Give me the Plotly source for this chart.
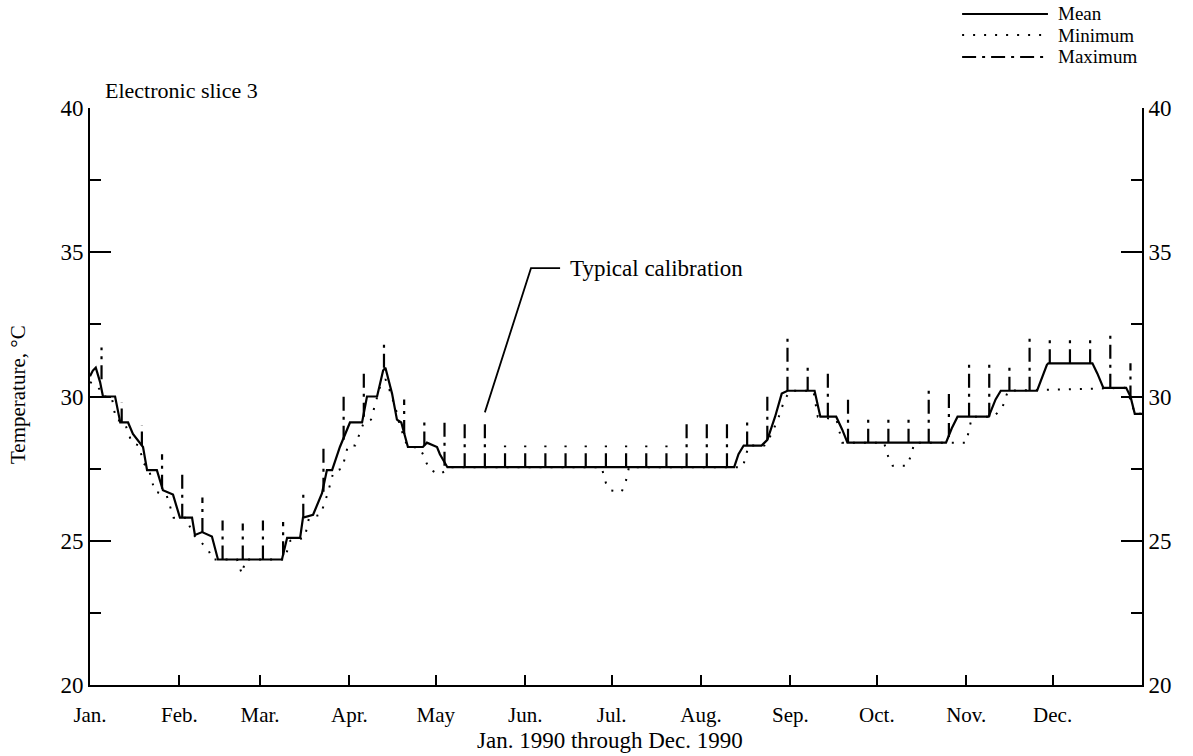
import plotly.graph_objects as go

# ---------------------------------------------------------------
# Electronic slice 3 temperatures, Jan. 1990 through Dec. 1990
# x values are day of year (0 = Jan. 1), y values are degrees C
# ---------------------------------------------------------------

month_starts = [0, 31, 59, 90, 120, 151, 181, 212, 243, 273, 304, 334]
month_labels = ["Jan.", "Feb.", "Mar.", "Apr.", "May", "Jun.", "Jul.",
                "Aug.", "Sep.", "Oct.", "Nov.", "Dec."]

# Mean temperature (vertices of the trace)
mean_days = [0, 1.0, 2.0, 3.5, 4.5, 8.7, 10.5, 13.2, 14.9, 17.3, 18.4, 19.8,
             23.2, 25.3, 28.8, 31.2, 35.4, 36.4, 38.9, 42.3, 44.4, 66.6,
             68.4, 72.9, 73.9, 77.4, 80.5, 82.2, 84.0, 86.7, 90.2, 94.4,
             96.1, 99.6, 101.7, 102.5, 104.8, 106.5, 108.0, 110.3, 115.5,
             116.9, 120.4, 121.4, 124.0, 223.5, 225.0, 226.8, 233.0, 235.0,
             237.7, 240.0, 242.0, 251.4, 253.4, 258.9, 261.0, 262.8, 297.0,
             299.0, 301.0, 311.8, 314.2, 316.0, 328.6, 332.0, 332.5, 347.8,
             349.5, 351.6, 359.5, 361.0, 362.5, 365]
mean_temp = [30.7, 30.9, 31.0, 30.5, 30.0, 30.0, 29.1, 29.1, 28.7, 28.4,
             28.25, 27.45, 27.45, 26.75, 26.6, 25.8, 25.8, 25.2, 25.3, 25.15,
             24.35, 24.35, 25.1, 25.1, 25.8, 25.9, 26.65, 27.45, 27.45, 28.25,
             29.1, 29.1, 30.0, 30.0, 30.9, 31.0, 30.1, 29.2, 29.1, 28.25,
             28.25, 28.4, 28.25, 28.0, 27.55, 27.55, 28.0, 28.3, 28.3, 28.5,
             29.3, 30.1, 30.2, 30.2, 29.3, 29.3, 28.85, 28.4, 28.4, 28.9,
             29.3, 29.3, 29.9, 30.2, 30.2, 31.1, 31.15, 31.15, 30.8, 30.3,
             30.3, 30.0, 29.4, 29.4]

# Minimum temperature (vertices of the trace)
min_days = [0, 2.5, 4.5, 7.5, 9.0, 12.0, 14.5, 17.0, 18.5, 20.5, 22.5, 26.5,
            29.0, 33.5, 35.5, 38.0, 41.0, 42.5, 51.0, 52.7, 54.0, 67.5, 69.5,
            74.5, 76.0, 80.0, 82.5, 84.5, 87.5, 89.5, 92.0, 95.0, 97.5,
            100.5, 102.5, 104.0, 106.0, 107.5, 110.0, 114.5, 116.0, 117.5,
            121.0, 123.0, 125.0, 177.5, 179.0, 180.5, 184.5, 186.0, 187.0,
            226.5, 228.5, 234.0, 236.5, 239.0, 241.0, 243.0, 251.0, 252.5,
            259.0, 261.0, 275.5, 277.0, 278.5, 283.5, 285.0, 286.0, 304.0,
            306.0, 313.5, 316.5, 318.5, 359.0, 361.0, 362.5, 365]
min_temp = [30.5, 30.4, 30.0, 30.0, 29.2, 29.1, 28.4, 28.3, 27.7, 27.45,
            26.7, 26.6, 25.8, 25.8, 25.25, 25.0, 24.7, 24.35, 24.35, 23.85,
            24.35, 24.35, 25.0, 25.1, 25.8, 25.9, 26.65, 27.4, 27.5, 28.3,
            28.3, 29.1, 29.2, 30.3, 30.6, 30.2, 29.6, 29.0, 28.3, 28.2, 27.9,
            27.5, 27.3, 27.4, 27.55, 27.55, 27.0, 26.75, 26.7, 27.1, 27.55,
            27.55, 28.3, 28.3, 28.7, 29.3, 29.9, 30.2, 30.2, 29.3, 29.2, 28.4,
            28.4, 27.9, 27.6, 27.6, 28.0, 28.4, 28.4, 29.3, 29.3, 29.6, 30.2,
            30.3, 29.9, 29.4, 29.4]

# Maximum temperature: weekly calibration excursions
spike_days = [4, 11, 18, 25, 32, 39, 46, 53, 60, 67, 74, 81, 88, 95, 102,
              109, 116, 123, 130, 137, 144, 151, 158, 165, 172, 179, 186,
              193, 200, 207, 214, 221, 228, 235, 242, 249, 256, 263, 270,
              277, 284, 291, 298, 305, 312, 319, 326, 333, 340, 347, 354, 361]
spike_base = [30.6, 29.1, 28.3, 26.8, 25.8, 25.3, 24.35, 24.35, 24.35, 24.5,
              25.8, 26.7, 28.5, 29.3, 31.0, 28.7, 28.3, 27.6, 27.55, 27.55,
              27.55, 27.55, 27.55, 27.55, 27.55, 27.55, 27.55, 27.55, 27.55,
              27.55, 27.55, 27.55, 28.3, 28.5, 30.2, 30.2, 29.3, 28.4, 28.4,
              28.4, 28.4, 28.4, 28.6, 29.3, 29.3, 30.2, 30.2, 31.15, 31.15,
              31.15, 30.3, 29.9]
spike_top = [31.7, 29.8, 29.0, 28.0, 27.35, 26.5, 25.7, 25.6, 25.7, 25.65,
             26.65, 28.2, 30.0, 30.8, 31.85, 29.9, 29.2, 29.2, 29.1, 29.2,
             28.3, 28.3, 28.3, 28.3, 28.3, 28.3, 28.3, 28.3, 28.3, 29.25,
             29.1, 29.25, 29.25, 30.05, 32.0, 31.0, 31.0, 30.05, 29.3, 29.25,
             29.4, 30.2, 30.2, 31.1, 31.1, 31.1, 32.05, 32.05, 32.05, 32.05,
             32.2, 31.15]
calibration_index = 19  # the excursion called out as "Typical calibration"

# y axis
y_range = [20, 40]
y_major = [20, 25, 30, 35, 40]

# ---------------------------------------------------------------
FONT = "Liberation Serif, Times New Roman, serif"
INK = "black"
DASH_MIN = "2px,9px"
DASH_MAX = "14px,6px,3px,6px"

# vertical segments for the maximum excursions, separated by gaps
max_x, max_y = [], []
for d, b, t in zip(spike_days, spike_base, spike_top):
    max_x += [d, d, None]
    max_y += [b, t, None]

fig = go.Figure()
fig.add_trace(go.Scatter(x=min_days, y=min_temp, mode="lines", name="Minimum",
                         line=dict(color=INK, width=2, dash=DASH_MIN),
                         showlegend=False, hoverinfo="skip"))
fig.add_trace(go.Scatter(x=mean_days, y=mean_temp, mode="lines", name="Mean",
                         line=dict(color=INK, width=2.2),
                         showlegend=False))
fig.add_trace(go.Scatter(x=max_x, y=max_y, mode="lines", name="Maximum",
                         line=dict(color=INK, width=2.2, dash=DASH_MAX),
                         showlegend=False, connectgaps=False, hoverinfo="skip"))
# right-hand temperature scale
fig.add_trace(go.Scatter(x=[None], y=[None], yaxis="y2", showlegend=False,
                         hoverinfo="skip"))

# leader from the typical calibration excursion to its label
tip_x = spike_days[calibration_index]
tip_y = spike_top[calibration_index] + 0.25
elbow_x, elbow_y, end_x = 153.0, 34.45, 163.1
fig.add_shape(type="path", xref="x", yref="y",
              path=f"M {tip_x},{tip_y} L {elbow_x},{elbow_y} L {end_x},{elbow_y}",
              line=dict(color=INK, width=1.8))
fig.add_annotation(x=end_x + 2.6, y=elbow_y, xref="x", yref="y",
                   text="Typical calibration", showarrow=False,
                   xanchor="left", yanchor="middle",
                   font=dict(family=FONT, size=23, color=INK))

# key in the upper right corner
key = [("Mean", "solid", 1.163), ("Minimum", DASH_MIN, 1.1265),
       ("Maximum", DASH_MAX, 1.0884)]
for label, dash, ky in key:
    fig.add_shape(type="line", xref="paper", yref="paper",
                  x0=0.829, x1=0.9106, y0=ky, y1=ky,
                  line=dict(color=INK, width=2, dash=dash))
    fig.add_annotation(x=0.9183, y=ky, xref="paper", yref="paper",
                       text=label, showarrow=False, xanchor="left",
                       yanchor="middle",
                       font=dict(family=FONT, size=19, color=INK))

fig.add_annotation(x=0.0124, y=1.031, xref="paper", yref="paper",
                   text="Electronic slice 3", showarrow=False,
                   xanchor="left", yanchor="middle",
                   font=dict(family=FONT, size=22, color=INK))
fig.add_annotation(x=-0.0684, y=0.5026, xref="paper", yref="paper",
                   text="Temperature, °C", showarrow=False, textangle=-90,
                   xanchor="center", yanchor="middle",
                   font=dict(family=FONT, size=21, color=INK))
fig.add_annotation(x=0.4943, y=-0.097, xref="paper", yref="paper",
                   text="Jan. 1990 through Dec. 1990", showarrow=False,
                   xanchor="center", yanchor="middle",
                   font=dict(family=FONT, size=23, color=INK))

yaxis_common = dict(range=y_range, tickvals=y_major, ticks="inside",
                    ticklen=21, tickwidth=2, tickcolor=INK,
                    showline=True, linecolor=INK, linewidth=2,
                    showgrid=False, zeroline=False,
                    minor=dict(dtick=2.5, tick0=20, ticks="inside",
                               ticklen=11, tickwidth=2, tickcolor=INK,
                               showgrid=False),
                    tickfont=dict(family=FONT, size=23, color=INK))

fig.update_layout(
    width=1193, height=756,
    margin=dict(l=90, r=51, t=108, b=71),
    paper_bgcolor="white", plot_bgcolor="white",
    showlegend=False,
    xaxis=dict(range=[0, 365], tickvals=month_starts, ticktext=month_labels,
               ticks="inside", ticklen=10, tickwidth=2, tickcolor=INK,
               showline=True, linecolor=INK, linewidth=2,
               showgrid=False, zeroline=False, ticklabelstandoff=10,
               tickfont=dict(family=FONT, size=21, color=INK)),
    yaxis=dict(side="left", **yaxis_common),
    yaxis2=dict(side="right", overlaying="y", **yaxis_common),
)

fig.write_html("out.html")
